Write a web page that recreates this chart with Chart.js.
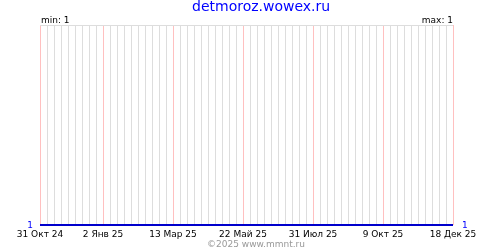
<!DOCTYPE html>
<html>
<head>
<meta charset="utf-8">
<script src="https://cdn.jsdelivr.net/npm/chart.js@4"></script>
<style>
  html, body { margin: 0; padding: 0; background: #fff; }
  #chart { display: block; }
</style>
</head>
<body>
<canvas id="chart" width="500" height="250"></canvas>
<script>
// data
const siteTitle = 'detmoroz.wowex.ru';
const footerText = '©2025 www.mmnt.ru';
const dates = ['2024-10-31', '2025-12-18'];
const values = [1, 1];
const months = ['Янв', 'Фев', 'Мар', 'Апр', 'Май', 'Июн', 'Июл', 'Авг', 'Сен', 'Окт', 'Ноя', 'Дек'];

const DAY = 86400000;
const start = Date.parse(dates[0]);
const toDay = d => Math.round((Date.parse(d) - start) / DAY);
const lastDay = toDay(dates[dates.length - 1]);

// weekly grey lines, red lines every 10 weeks counted from 2 Jan 25
const isMajor = v => v === 0 || (v - 63) % 70 === 0;

const fmt = v => {
    const d = new Date(start + v * DAY);
    const yy = String(d.getUTCFullYear()).slice(2);
    return d.getUTCDate() + ' ' + months[d.getUTCMonth()] + ' ' + yy;
};

const FONT = '"DejaVu Sans", Verdana, sans-serif';
const minVal = Math.min(...values);
const maxVal = Math.max(...values);

const weekTicks = major => scale => {
    const t = [];
    for (let v = 0; v <= lastDay; v += 7) {
        if (isMajor(v) === major) t.push({ value: v });
    }
    scale.ticks = t;
};

const textPlugin = {
    id: 'texts',
    afterDraw(chart) {
        const ctx = chart.ctx;
        const a = chart.chartArea;
        ctx.save();
        ctx.textBaseline = 'alphabetic';

        ctx.font = '14px ' + FONT;
        ctx.fillStyle = '#0000ff';
        ctx.textAlign = 'left';
        ctx.fillText(siteTitle, 192, 11);

        ctx.font = '9px ' + FONT;
        ctx.fillStyle = '#000';
        ctx.textAlign = 'left';
        ctx.fillText('min: ' + minVal, a.left + 1, 23);
        ctx.textAlign = 'right';
        ctx.fillText('max: ' + maxVal, a.right, 23);

        ctx.fillStyle = '#0000ff';
        ctx.textAlign = 'right';
        ctx.fillText(String(values[0]), a.left - 7, 228);
        ctx.textAlign = 'left';
        ctx.fillText(String(values[values.length - 1]), a.right + 9, 228);

        ctx.fillStyle = '#999';
        ctx.textAlign = 'center';
        ctx.fillText(footerText, 256, 247);
        ctx.restore();
    }
};

new Chart(document.getElementById('chart'), {
    type: 'line',
    data: {
        datasets: [{
            data: dates.map((d, i) => ({ x: toDay(d), y: values[i] })),
            xAxisID: 'x',
            borderColor: '#0000cc',
            borderWidth: 2,
            pointRadius: 0,
            tension: 0,
            clip: false
        }]
    },
    options: {
        responsive: false,
        animation: false,
        layout: { padding: { left: 40, right: 47, top: 25, bottom: 0 } },
        plugins: {
            legend: { display: false },
            tooltip: { enabled: false }
        },
        scales: {
            x: {
                type: 'linear',
                min: 0,
                max: lastDay,
                afterBuildTicks: weekTicks(false),
                afterFit: scale => { scale.height = 0; },
                border: { display: false },
                grid: { drawTicks: false, lineWidth: 1, color: '#dddddd' },
                ticks: { display: false, autoSkip: false }
            },
            x2: {
                type: 'linear',
                position: 'bottom',
                min: 0,
                max: lastDay,
                afterBuildTicks: weekTicks(true),
                afterFit: scale => { scale.height = 25; },
                border: { display: false },
                grid: { drawTicks: false, lineWidth: 1, color: '#ffc0c0' },
                ticks: {
                    autoSkip: false,
                    maxRotation: 0,
                    padding: 4,
                    color: '#000',
                    font: { family: FONT, size: 9 },
                    callback: v => fmt(v)
                }
            },
            y: {
                min: 1,
                max: 2,
                afterFit: scale => { scale.width = 0; },
                border: { display: false },
                grid: {
                    drawTicks: false,
                    color: c => c.tick.value === 2 ? '#dddddd' : 'rgba(0,0,0,0)'
                },
                ticks: { display: false, stepSize: 1 }
            }
        }
    },
    plugins: [textPlugin]
});
</script>
</body>
</html>
